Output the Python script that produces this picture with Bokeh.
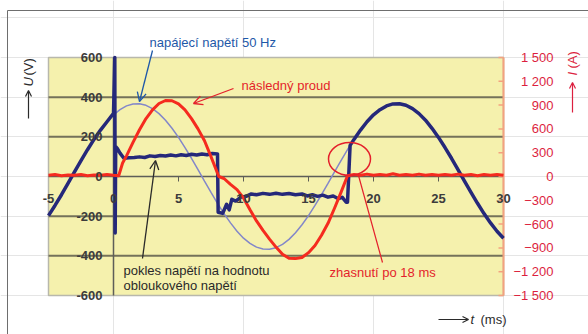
import math
from bokeh.plotting import figure
from bokeh.models import (Range1d, LabelSet, Label, Arrow, OpenHead, ColumnDataSource)
from bokeh.core.properties import value
from bokeh.embed import file_html
from bokeh.resources import INLINE

# ---------------- data ----------------
# measured voltage U (V) - thick dark blue
u_t = [-5, -4.5, -4, -3.5, -3, -2.5, -2, -1.5, -1, -0.5, 0, 0.1, 0.13, 0.17, 0.3, 0.5, 0.8,
       1.2, 1.6, 2.0, 2.4, 2.8, 3.2, 3.6, 4.0, 4.4, 4.8, 5.2, 5.6, 6.0, 6.4, 6.8, 7.2, 7.6,
       8.0, 8.05, 8.4, 8.7, 8.9, 9.1, 9.4, 9.8, 10.2, 10.6, 11.0, 11.5, 12.0, 12.5, 13.0,
       13.5, 14.0, 14.5, 14.9, 15.3, 15.7, 16.1, 16.5, 16.9, 17.3, 17.6, 17.9, 18.0, 18.2,
       18.5, 19, 19.5, 20, 20.5, 21, 21.5, 22, 22.5, 23, 23.5, 24, 24.5, 25, 25.5, 26, 26.5,
       27, 27.5, 28, 28.5, 29, 29.5, 30]
u_v = [-197, -146, -92, -35, 23, 80, 135, 187, 234, 276, 318, 600, -285, 150, 140, 118, 92,
       94, 96, 99, 96, 104, 101, 106, 103, 108, 104, 110, 106, 112, 108, 113, 110, 116,
       114, -180, -186, -140, -168, -115, -124, -104, -100, -88, -92, -85, -90, -84, -90,
       -86, -92, -88, -98, -92, -100, -94, -104, -98, -112, -105, -130, -130, 157,
       187, 234, 276, 311, 337, 356, 366, 367, 359, 342, 317, 284, 243, 197, 146, 92, 35,
       -23, -80, -135, -187, -234, -276, -311]

# supply voltage 50 Hz (V) - thin blue
s_t = [0, 0.5, 1, 1.5, 2, 2.5, 3, 3.5, 4, 4.5, 5, 5.5, 6, 6.5, 7, 7.5, 8, 8.5, 9, 9.5, 10,
       10.5, 11, 11.5, 12, 12.5, 13, 13.5, 14, 14.5, 15, 15.5, 16, 16.5, 17, 17.5, 18, 18.2]
s_v = [311, 337, 356, 366, 367, 359, 342, 317, 284, 243, 197, 146, 92, 35, -23, -80, -135,
       -187, -234, -276, -311, -337, -356, -366, -367, -359, -342, -317, -284, -243, -197,
       -146, -92, -35, 23, 80, 135, 157]

# follow current I (A) - red
i_t = [-5, -4.5, -4, -3.5, -3, -2.5, -2, -1.5, -1, -0.5, 0, 0.4, 0.7, 1.0, 1.5, 2.0, 2.5,
       3.0, 3.5, 4.0, 4.5, 5.0, 5.5, 6.0, 6.5, 7.0, 7.5, 8.0, 8.1, 8.5, 9.0, 9.5, 10.0,
       10.5, 11.0, 11.5, 12.0, 12.5, 13.0, 13.5, 14.0, 14.5, 15.0, 15.5, 16.0, 16.5, 17.0,
       17.5, 18.0, 18.5, 19, 19.5, 20, 20.5, 21, 21.5, 22, 22.5, 23, 23.5, 24, 24.5, 25,
       25.5, 26, 26.5, 27, 27.5, 28, 28.5, 29, 29.5, 30]
i_a = [15, 25, 10, 20, 15, 25, 10, 20, 15, 25, 15, 10, 170, 260, 430, 590, 730,
       840, 920, 958, 955, 915, 840, 730, 600, 450, 250, 40, 0, -25, -100, -165, -270,
       -420, -560, -680, -790, -890, -980, -1030, -1035, -1020, -960, -870, -740, -590, -400,
       -200, 10, 25, 15, 30, 15, 25, 15, 35, 15, 25, 15, 30, 15, 25, 15,
       25, 15, 30, 15, 25, 10, 25, 15, 25, 15]

# axes / ticks
x_ticks = [-5, 0, 5, 10, 15, 20, 25, 30]
x_tick_labels = ["-5", "0", "5", "10", "15", "20", "25", "30"]
u_ticks = [600, 400, 200, 0, -200, -400, -600]
u_tick_labels = ["600", "400", "200", "0", "-200", "-400", "-600"]
grid_u = [400, 200, -200, -400]
i_ticks = [1500, 1200, 900, 600, 300, 0, -300, -600, -900, -1200, -1500]
i_tick_labels = ["1 500", "1 200", "900", "600", "300", "0", "\u2212300", "\u2212600",
                 "\u2212900", "\u22121 200", "\u22121 500"]

# ---------------- layout (pixels of the 588x334 picture) ----------------
W, H = 588, 334
FL, FR, FT, FB = 48, 503, 57, 295          # yellow plotting area
T0, T1 = x_ticks[0], x_ticks[-1]
U0, U1 = u_ticks[-1], u_ticks[0]
I0, I1 = i_ticks[-1], i_ticks[0]
kx = (T1 - T0) / (FR - FL)                  # ms per pixel
ky = (U1 - U0) / (FB - FT)                  # V per pixel


def X(px):
    return T0 + (px - FL) * kx


def Y(py):
    return U1 - (py - FT) * ky


YELLOW = "#f5f1ad"
GRID = "#74725a"
AXIS = "#5e5e58"
NAVY = "#25287a"
THIN = "#8387c9"
RED = "#f52b1f"
RED_TXT = "#e41f2b"
RED_AX = "#dc1f3f"
ORANGE = "#f3a27f"
BLUE_TXT = "#1e58a8"
DARK = "#2a2a2a"
FONT = "Liberation Sans"

p = figure(width=W, height=H, output_backend="svg", toolbar_location=None, title=None,
           x_range=Range1d(X(0), X(W)), y_range=Range1d(Y(H), Y(0)),
           x_axis_location=None, y_axis_location=None,
           min_border_left=0, min_border_right=0, min_border_top=0, min_border_bottom=0,
           background_fill_color="white", border_fill_color="white",
           outline_line_color=None)
p.extra_y_ranges = {"I": Range1d(Y(H) * I1 / U1, Y(0) * I1 / U1)}

# outer frame of the figure (left and top edges)
p.segment(x0=[X(7), X(7)], y0=[Y(10), Y(10)], x1=[X(7), X(W + 5)], y1=[Y(H + 5), Y(10)],
          line_color="#6e6e6e", line_width=1)

# plotting area
p.quad(left=[T0], right=[T1], bottom=[U0], top=[U1], fill_color=YELLOW,
       line_color="#b8b8ac", line_width=1.5)
n = len(grid_u)
p.segment(x0=[T0] * n, y0=grid_u, x1=[T1] * n, y1=grid_u, line_color=GRID, line_width=2)
p.segment(x0=[T0, 0], y0=[0, U0], x1=[T1, 0], y1=[0, U1], line_color=AXIS, line_width=1.5)
p.segment(x0=[T1], y0=[U0], x1=[T1], y1=[U1], line_color=ORANGE, line_width=2)

minor = x_ticks[2:-1]
p.segment(x0=minor, y0=[0] * len(minor), x1=minor, y1=[Y(181)] * len(minor),
          line_color=AXIS, line_width=1)
p.segment(x0=[X(FR - 5)] * len(i_ticks), y0=i_ticks, x1=[T1] * len(i_ticks), y1=i_ticks,
          y_range_name="I", line_color=ORANGE, line_width=1.5)

# curves
p.line(s_t, s_v, line_color=THIN, line_width=1.5)
p.line(u_t, u_v, line_color=NAVY, line_width=3.5, line_join="round")
p.line(i_t, i_a, y_range_name="I", line_color=RED, line_width=3, line_join="round")

# tick labels
src_x = ColumnDataSource(dict(x=x_ticks, y=[Y(198)] * len(x_ticks), t=x_tick_labels))
p.add_layout(LabelSet(x="x", y="y", text="t", source=src_x, text_font=value(FONT),
                      text_font_size="13px", text_font_style="bold", text_color="#3c3c3c",
                      text_align="center", text_baseline="middle"))
src_u = ColumnDataSource(dict(x=[X(102)] * len(u_ticks), y=u_ticks, t=u_tick_labels))
p.add_layout(LabelSet(x="x", y="y", text="t", source=src_u, text_font=value(FONT),
                      text_font_size="13px", text_font_style="bold", text_color="#3c3c3c",
                      text_align="right", text_baseline="middle"))
src_i = ColumnDataSource(dict(x=[X(553)] * len(i_ticks), y=i_ticks, t=i_tick_labels))
p.add_layout(LabelSet(x="x", y="y", text="t", source=src_i, y_range_name="I",
                      text_font=value(FONT), text_font_size="13px", text_color=RED_AX,
                      text_align="right", text_baseline="middle"))


def lab(px, py, text, color=DARK, italic=False, angle=0.0, align="left"):
    p.add_layout(Label(x=X(px), y=Y(py), text=text, text_font=FONT, text_font_size="13px",
                       text_font_style="italic" if italic else "normal",
                       text_color=color, angle=angle, text_align=align,
                       text_baseline="middle"))


def arr(px0, py0, px1, py1, color, size=9, width=1.3):
    p.add_layout(Arrow(end=OpenHead(size=size, line_color=color, line_width=width),
                       x_start=X(px0), y_start=Y(py0), x_end=X(px1), y_end=Y(py1),
                       line_color=color, line_width=width))


# axis titles
arr(28, 118, 28, 90, DARK, size=6, width=1.2)
lab(28, 86, "U", italic=True, angle=math.pi / 2)
lab(28, 75, "(V)", angle=math.pi / 2)

arr(572, 112, 572, 82, RED_AX, size=6, width=1.2)
lab(572, 75, "I", color=RED_AX, italic=True, angle=math.pi / 2)
lab(572, 68, "(A)", color=RED_AX, angle=math.pi / 2)

arr(438, 319, 468, 319, DARK, size=6, width=1.2)
lab(470, 319, "t", italic=True)
lab(480, 319, "(ms)")

# annotations
lab(149, 42, "napájecí napětí 50 Hz", color=BLUE_TXT)
arr(152, 50, 139, 101, BLUE_TXT)
lab(241, 85, "následný proud", color=RED_TXT)
arr(233, 88, 193, 103, RED_TXT)
lab(123, 270, "pokles napětí na hodnotu")
lab(123, 285, "obloukového napětí")
arr(142, 258, 155, 160, DARK)
p.ellipse(x=[X(349)], y=[Y(158.5)], width=42 * kx, height=33 * ky, fill_color=None,
          line_color=RED_TXT, line_width=1.5)
p.add_layout(Arrow(end=None, x_start=X(358), y_start=Y(175), x_end=X(382), y_end=Y(262),
                   line_color=RED_TXT, line_width=1.2))
lab(329, 272, "zhasnutí po 18 ms", color=RED_TXT)

open("out.html", "w").write(file_html(p, INLINE))
